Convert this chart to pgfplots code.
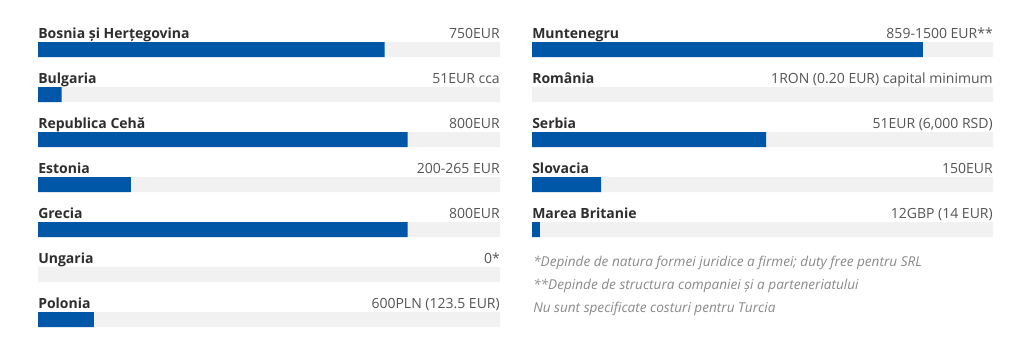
\documentclass[border=0pt]{standalone}
\usepackage{pgfplots}
\pgfplotsset{compat=1.18}
\usepackage{fontspec}
\setmainfont{Open Sans}
\definecolor{barblue}{HTML}{0057A8}
\definecolor{track}{HTML}{F1F1F1}
\definecolor{lab}{HTML}{2E2E2E}
\definecolor{val}{HTML}{555555}
\definecolor{note}{HTML}{8A8A8A}
\pgfplotsset{
  panel/.style={
    scale only axis, width=#1*0.75pt, height=270*0.75pt,
    xmin=0, xmax=1000, ymin=0, ymax=6, y dir=reverse,
    axis line style={draw=none}, ticks=none, hide axis,
    xbar, bar shift=0pt, bar width=15*0.75pt, clip=false,
  },
}
\tikzset{
  lbl/.style={anchor=base west, yshift=11.5*0.75pt, font=\fontsize{10.5}{12}\selectfont\bfseries, text=lab, inner sep=0pt},
  vl/.style={anchor=base east, yshift=11.5*0.75pt, font=\fontsize{10.5}{12}\selectfont, text=val, inner sep=0pt},
}
\begin{document}
\begin{tikzpicture}
\fill[white] (0,0) rectangle (1024*0.75pt,358*0.75pt);
% left panel
\begin{axis}[panel=462, at={(38*0.75pt,{(358-49.5)*0.75pt})}, anchor=north west]
\addplot[xbar, bar shift=0pt, fill=track, draw=none] coordinates {(1000,0) (1000,1) (1000,2) (1000,3) (1000,4) (1000,5) (1000,6)};
\addplot[xbar, bar shift=0pt, fill=barblue, draw=none, restrict x to domain=0.5:1000] coordinates {(750,0) (51,1) (800,2) (201,3) (800,4) (0,5) (121,6)};
\node[lbl] at (axis cs:0,0) {Bosnia și Herțegovina};
\node[lbl] at (axis cs:0,1) {Bulgaria};
\node[lbl] at (axis cs:0,2) {Republica Cehă};
\node[lbl] at (axis cs:0,3) {Estonia};
\node[lbl] at (axis cs:0,4) {Grecia};
\node[lbl] at (axis cs:0,5) {Ungaria};
\node[lbl] at (axis cs:0,6) {Polonia};
\node[vl] at (axis cs:1000,0) {750EUR};
\node[vl] at (axis cs:1000,1) {51EUR cca};
\node[vl] at (axis cs:1000,2) {800EUR};
\node[vl] at (axis cs:1000,3) {200-265 EUR};
\node[vl] at (axis cs:1000,4) {800EUR};
\node[vl] at (axis cs:1000,5) {0*};
\node[vl] at (axis cs:1000,6) {600PLN (123.5 EUR)};
\end{axis}
% right panel
\begin{axis}[panel=461, at={(532*0.75pt,{(358-49.5)*0.75pt})}, anchor=north west]
\addplot[xbar, bar shift=0pt, fill=track, draw=none] coordinates {(1000,0) (1000,1) (1000,2) (1000,3) (1000,4)};
\addplot[xbar, bar shift=0pt, fill=barblue, draw=none, restrict x to domain=0.5:1000] coordinates {(848,0) (0.2,1) (508,2) (150,3) (17,4)};
\node[lbl] at (axis cs:0,0) {Muntenegru};
\node[lbl] at (axis cs:0,1) {România};
\node[lbl] at (axis cs:0,2) {Serbia};
\node[lbl] at (axis cs:0,3) {Slovacia};
\node[lbl] at (axis cs:0,4) {Marea Britanie};
\node[vl] at (axis cs:1000,0) {859-1500 EUR**};
\node[vl] at (axis cs:1000,1) {1RON (0.20 EUR) capital minimum};
\node[vl] at (axis cs:1000,2) {51EUR (6,000 RSD)};
\node[vl] at (axis cs:1000,3) {150EUR};
\node[vl] at (axis cs:1000,4) {12GBP (14 EUR)};
\end{axis}
\begin{scope}[every node/.style={anchor=base west, inner sep=0pt, font=\fontsize{10.2}{11}\selectfont\itshape, text=note}]
\node at (533*0.75pt,{(358-266)*0.75pt}) {*Depinde de natura formei juridice a firmei; duty free pentru SRL};
\node at (533*0.75pt,{(358-289)*0.75pt}) {**Depinde de structura companiei și a parteneriatului};
\node at (533*0.75pt,{(358-312)*0.75pt}) {Nu sunt specificate costuri pentru Turcia};
\end{scope}
\end{tikzpicture}
\end{document}
